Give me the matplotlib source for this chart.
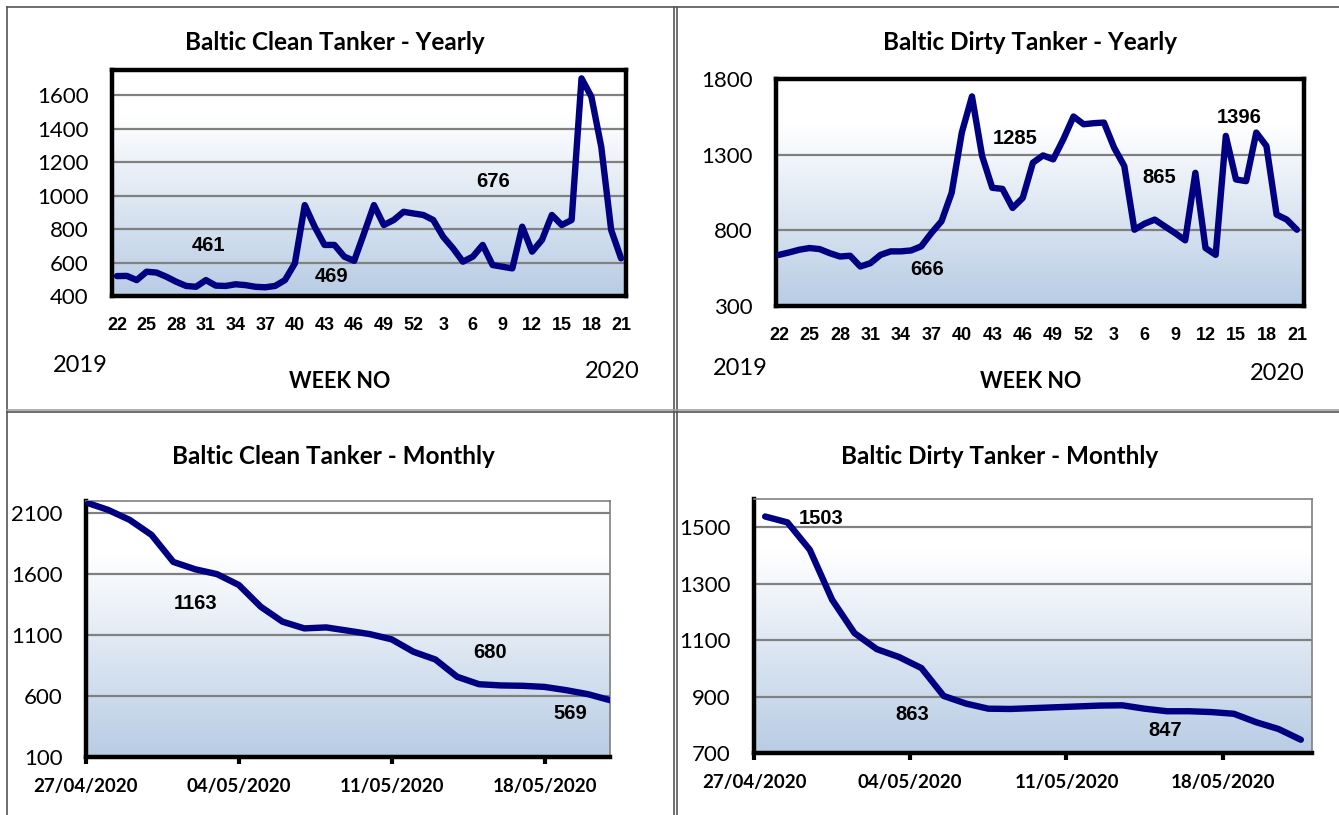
import matplotlib
matplotlib.use("Agg")
import matplotlib.pyplot as plt
from matplotlib.colors import LinearSegmentedColormap
from matplotlib.lines import Line2D
import matplotlib.dates as mdates
import numpy as np
import pandas as pd

W, H = 1339, 815

# weekly data (week 22/2019 -> week 21/2020)
weeks = list(range(22, 53)) + list(range(1, 22))
clean_yearly = [519, 520, 495, 545, 540, 515, 485, 460, 455, 495, 462, 460, 470, 465, 455, 452,
                460, 495, 595, 943, 814, 705, 705, 635, 610, 775, 943, 824, 854, 903, 893,
                884, 854, 754, 685, 605, 635, 705, 585, 575, 565, 814, 665, 735, 884, 824, 854,
                1700, 1590, 1290, 794, 625]
dirty_yearly = [638, 654, 672, 683, 676, 649, 627, 632, 561, 583, 638, 661, 661, 667, 694, 782,
                860, 1048, 1446, 1685, 1291, 1081, 1074, 948, 1014, 1247, 1295, 1269, 1402, 1552, 1501,
                1508, 1512, 1346, 1225, 804, 844, 871, 826, 782, 734, 1180, 683, 638, 1424, 1136, 1125,
                1446, 1357, 904, 871, 804]

# daily data 27/04/2020 -> 21/05/2020
days = pd.date_range("2020-04-27", "2020-05-21", freq="D")
clean_monthly = [2188, 2128, 2045, 1922, 1700, 1640, 1600, 1511, 1333, 1210, 1155, 1163, 1136,
                 1108, 1065, 963, 900, 758, 697, 687, 684, 675, 648, 615, 566]
dirty_monthly = [1538, 1517, 1420, 1243, 1125, 1068, 1040, 1001, 902, 875, 857, 856, 859,
                 862, 865, 868, 869, 857, 848, 848, 845, 839, 809, 785, 747]
date_ticks = pd.to_datetime(["2020-04-27", "2020-05-04", "2020-05-11", "2020-05-18"])

NAVY = "#000080"
NARROW = ["Liberation Sans Narrow", "Liberation Sans"]
grad = LinearSegmentedColormap.from_list("g", ["#b8cce4", "#ffffff"])

fig = plt.figure(figsize=(W / 100, H / 100), dpi=100)
fig.patch.set_facecolor("white")


def px_axes(left, top, right, bottom):
    return fig.add_axes([left / W, 1 - bottom / H, (right - left) / W, (bottom - top) / H])


def ftext(x, y, s, **kw):
    fig.text(x / W, 1 - y / H, s, ha="center", va="center", **kw)


def style(ax, ylim, yticks, frame):
    g = np.linspace(0, 1, 256).reshape(-1, 1)
    g = np.clip(g * 1.25, 0, 1)
    ax.imshow(g, extent=[0, 1, 0, 1], transform=ax.transAxes, aspect="auto",
              cmap=grad, origin="lower", zorder=0)
    ax.set_ylim(*ylim)
    ax.set_yticks(yticks)
    ax.yaxis.grid(True, color="#808080", lw=1.6, zorder=1)
    ax.set_axisbelow(True)
    ax.tick_params(axis="y", length=0, pad=17, labelsize=16)
    for lab in ax.get_yticklabels():
        lab.set_family("Lato")
    for side in ["left", "bottom"]:
        ax.spines[side].set_linewidth(3.2)
        ax.spines[side].set_color("black")
    for side in ["top", "right"]:
        if frame:
            ax.spines[side].set_linewidth(3.2)
            ax.spines[side].set_color("black")
        else:
            ax.spines[side].set_linewidth(1.2)
            ax.spines[side].set_color("#808080")


def draw(ax, x, y):
    ax.plot(x, y, color=NAVY, lw=4.6, solid_joinstyle="round", solid_capstyle="round", zorder=3)


def labels(ax, items):
    for s, x, y in items:
        ax.text(x, y, s, ha="center", va="center", fontweight="bold", fontsize=14.5,
                family=NARROW, zorder=4)


# ---- Clean yearly
ax1 = px_axes(112, 70, 626, 296)
idx = np.arange(len(weeks))
draw(ax1, idx, clean_yearly)
ax1.set_xlim(-0.5, len(weeks) - 0.5)
style(ax1, (400, 1750), range(400, 1601, 200), True)
ax1.set_xticks(idx[::3])
ax1.set_xticklabels(weeks[::3], fontweight="bold", fontsize=13, family=NARROW)
ax1.tick_params(axis="x", length=0, pad=15)
labels(ax1, [("461", 9.3, 704), ("469", 21.7, 519), ("676", 38.1, 1081)])

# ---- Dirty yearly
ax2 = px_axes(776, 79, 1304, 306)
draw(ax2, idx, dirty_yearly)
ax2.set_xlim(-0.3, len(weeks) - 0.3)
style(ax2, (300, 1800), range(300, 1801, 500), True)
ax2.set_xticks(idx[::3])
ax2.set_xticklabels(weeks[::3], fontweight="bold", fontsize=13, family=NARROW)
ax2.tick_params(axis="x", length=0, pad=15)
labels(ax2, [("666", 14.6, 538), ("1285", 23.3, 1404), ("865", 37.4, 1146), ("1396", 45.3, 1543)])

# ---- Clean monthly
ax3 = px_axes(86, 501, 610, 757)
draw(ax3, days, clean_monthly)
ax3.set_xlim(days[0], days[-1])
style(ax3, (100, 2200), range(100, 2101, 500), False)
ax3.set_xticks(date_ticks)
ax3.xaxis.set_major_formatter(mdates.DateFormatter("%d/%m/%Y"))
ax3.tick_params(axis="x", length=5, width=3, pad=10, labelsize=13.5)
for lab in ax3.get_xticklabels():
    lab.set_fontweight("bold")
    lab.set_family("Lato")
labels(ax3, [("1163", days[0] + pd.Timedelta(days=5.0), 1363),
             ("680", days[0] + pd.Timedelta(days=18.5), 961),
             ("569", days[0] + pd.Timedelta(days=22.2), 453)])

# ---- Dirty monthly
ax4 = px_axes(754, 499, 1312, 753)
draw(ax4, days + pd.Timedelta(hours=12), dirty_monthly)
ax4.set_xlim(days[0], days[-1] + pd.Timedelta(days=1))
style(ax4, (700, 1600), range(700, 1501, 200), False)
ax4.set_xticks(date_ticks)
ax4.xaxis.set_major_formatter(mdates.DateFormatter("%d/%m/%Y"))
ax4.tick_params(axis="x", length=5, width=3, pad=10, labelsize=13.5)
for lab in ax4.get_xticklabels():
    lab.set_fontweight("bold")
    lab.set_family("Lato")
labels(ax4, [("1503", days[0] + pd.Timedelta(days=3.0), 1532),
             ("863", days[0] + pd.Timedelta(days=7.1), 835),
             ("847", days[0] + pd.Timedelta(days=18.4), 781)])

# titles and captions
tk = dict(fontweight="bold", fontsize=17.5, family="Lato")
ftext(335, 42, "Baltic Clean Tanker - Yearly", **tk)
ftext(1030, 42, "Baltic Dirty Tanker - Yearly", **tk)
ftext(333, 456, "Baltic Clean Tanker - Monthly", **tk)
ftext(1000, 456, "Baltic Dirty Tanker - Monthly", **tk)
ftext(80, 365, "2019", fontsize=17, family="Lato")
ftext(612, 372, "2020", fontsize=17, family="Lato")
ftext(340, 381, "WEEK NO", fontweight="bold", fontsize=15.5, family="Lato")
ftext(740, 368, "2019", fontsize=17, family="Lato")
ftext(1277, 374, "2020", fontsize=17, family="Lato")
ftext(1031, 381, "WEEK NO", fontweight="bold", fontsize=15.5, family="Lato")


# panel borders
def hline(y, x0, x1, c="#555555"):
    fig.add_artist(Line2D([x0 / W, x1 / W], [1 - y / H, 1 - y / H], color=c, lw=1.2))


def vline(x, y0, y1, c="#555555"):
    fig.add_artist(Line2D([x / W, x / W], [1 - y0 / H, 1 - y1 / H], color=c, lw=1.2))


hline(7, 7, W)
vline(7, 7, H)
vline(674, 7, H)
vline(677, 7, H)
hline(409.5, 7, W, "#a0a0a0")
hline(412, 7, W)

fig.savefig("out.png", dpi=100)
